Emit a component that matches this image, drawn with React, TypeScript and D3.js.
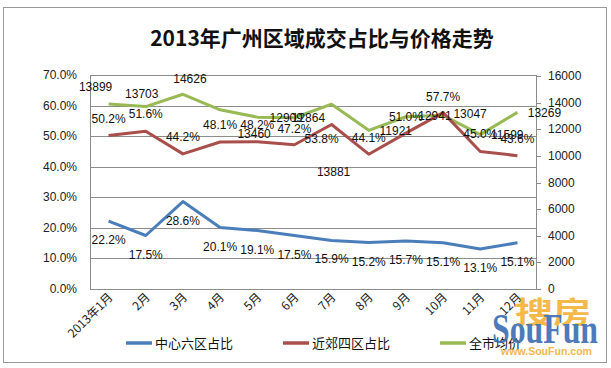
import * as d3 from "d3";

const months = ["2013年1月", "2月", "3月", "4月", "5月", "6月", "7月", "8月", "9月", "10月", "11月", "12月"];
const centralShare = [22.2, 17.5, 28.6, 20.1, 19.1, 17.5, 15.9, 15.2, 15.7, 15.1, 13.1, 15.1];
const suburbShare = [50.2, 51.6, 44.2, 48.1, 48.2, 47.2, 53.8, 44.1, 51.0, 57.7, 45.0, 43.6];
const cityPrice = [13899, 13703, 14626, 13460, 12909, 12864, 13881, 11921, 12941, 13047, 11599, 13269];
const leftTicks = [0, 10, 20, 30, 40, 50, 60, 70];
const rightTicks = [0, 2000, 4000, 6000, 8000, 10000, 12000, 14000, 16000];
const seriesNames = ["中心六区占比", "近郊四区占比", "全市均价"];

// label nudges (px) copied from how the labels sit in the original
const priceLabelDx = [-13, -4, 7, 34, 29, 14, 2, 27, 29, 27, 27, 27];
const priceLabelDy = [-17, -13, -15, 24, 1, 0, 68, 1, -1, -1, 0, 1];
const suburbLabelDx = [0, 0, 0, 0, 0, 0, -10, 0, 0, 0, 0, 0];
const suburbLabelDy = [-17, -17, -17, -17, -17, -16, 14, -16, -16, -16, -17, -17];

const BLUE = "#4A7EBB";
const RED = "#A84F4C";
const GREEN = "#98B954";
const NUM_FONT = "'Liberation Sans', Arial, sans-serif";
const CJK_FONT = "'Noto Sans CJK SC', sans-serif";

export default function App() {
  const width = 611;
  const height = 368;
  const plot = { left: 90, right: 536, top: 75, bottom: 289 };

  const x = d3.scaleBand().domain(months).range([plot.left, plot.right]);
  const cx = (i) => x(months[i]) + x.bandwidth() / 2;
  const yL = d3.scaleLinear().domain([0, 70]).range([plot.bottom, plot.top]);
  const yR = d3.scaleLinear().domain([0, 16000]).range([plot.bottom, plot.top + 1]);

  const pctLine = d3.line().x((d, i) => cx(i)).y((d) => yL(d));
  const priceLine = d3.line().x((d, i) => cx(i)).y((d) => yR(d));
  const pct = (v) => `${v.toFixed(1)}%`;

  return (
    <svg width={width} height={height} style={{ position: "absolute", left: 0, top: 0, background: "#fff" }}>
      <rect x={3.5} y={7.5} width={603} height={355} fill="#fff" stroke="#9a9a9a" />

      <text x={322} y={46} textAnchor="middle" fontFamily={CJK_FONT} fontWeight="bold" fontSize={21} fill="#111">
        2013年广州区域成交占比与价格走势
      </text>

      {/* gridlines */}
      {leftTicks.slice(1, -1).map((t) => (
        <line key={t} x1={plot.left} x2={plot.right} y1={Math.round(yL(t)) + 0.5} y2={Math.round(yL(t)) + 0.5} stroke="#8c8c8c" />
      ))}
      <rect x={plot.left + 0.5} y={plot.top + 0.5} width={plot.right - plot.left} height={plot.bottom - plot.top} fill="none" stroke="#8c8c8c" />

      {/* left axis */}
      {leftTicks.map((t) => (
        <text key={t} x={77} y={yL(t) + 4} textAnchor="end" fontFamily={NUM_FONT} fontSize={12} fill="#222">
          {pct(t)}
        </text>
      ))}

      {/* right axis */}
      {rightTicks.map((t) => (
        <g key={t}>
          <line x1={plot.right} x2={plot.right + 5} y1={Math.round(yR(t)) + 0.5} y2={Math.round(yR(t)) + 0.5} stroke="#8c8c8c" />
          <text x={548} y={yR(t) + 4} fontFamily={NUM_FONT} fontSize={12} fill="#222">
            {t}
          </text>
        </g>
      ))}

      {/* x axis labels */}
      {months.map((m, i) => (
        <text
          key={m}
          transform={`translate(${cx(i) + 5},${plot.bottom + 9}) rotate(-45)`}
          textAnchor="end"
          fontFamily={CJK_FONT}
          fontSize={12}
          fill="#222"
        >
          {m}
        </text>
      ))}

      {/* lines */}
      <path d={priceLine(cityPrice)} fill="none" stroke={GREEN} strokeWidth={3} strokeLinejoin="round" />
      <path d={pctLine(suburbShare)} fill="none" stroke={RED} strokeWidth={3} strokeLinejoin="round" />
      <path d={pctLine(centralShare)} fill="none" stroke={BLUE} strokeWidth={3} strokeLinejoin="round" />

      {/* data labels */}
      {centralShare.map((v, i) => (
        <text key={"c" + i} x={cx(i)} y={yL(v) + 23} textAnchor="middle" fontFamily={NUM_FONT} fontSize={12} fill="#111">
          {pct(v)}
        </text>
      ))}
      {suburbShare.map((v, i) => (
        <text key={"s" + i} x={cx(i) + suburbLabelDx[i]} y={yL(v) + suburbLabelDy[i] + 4} textAnchor="middle" fontFamily={NUM_FONT} fontSize={12} fill="#111">
          {pct(v)}
        </text>
      ))}
      {cityPrice.map((v, i) => (
        <text key={"p" + i} x={cx(i) + priceLabelDx[i]} y={yR(v) + priceLabelDy[i] + 4} textAnchor="middle" fontFamily={NUM_FONT} fontSize={12} fill="#111">
          {v}
        </text>
      ))}

      {/* legend */}
      {[BLUE, RED, GREEN].map((c, i) => {
        const lx = [126, 283, 440][i];
        return (
          <g key={c}>
            <line x1={lx} x2={lx + 26} y1={343} y2={343} stroke={c} strokeWidth={3.5} />
            <text x={lx + 29} y={347.5} fontFamily={CJK_FONT} fontSize={13} fill="#111">
              {seriesNames[i]}
            </text>
          </g>
        );
      })}

      {/* watermark */}
      <g opacity={0.92}>
        <text x={515} y={323} fontFamily={CJK_FONT} fontWeight="bold" fontSize={30} fill="#F4B23C" textLength={76} lengthAdjust="spacingAndGlyphs">
          搜房
        </text>
        <text x={492} y={343} fontFamily="'Liberation Serif', serif" fontWeight="bold" fontSize={42} fill="#3F6FB6" textLength={106} lengthAdjust="spacingAndGlyphs">
          SouFun
        </text>
        <text x={501} y={355} fontFamily={NUM_FONT} fontWeight="bold" fontSize={10} fill="#F4B23C" textLength={91} lengthAdjust="spacingAndGlyphs">
          www.SouFun.com
        </text>
      </g>
    </svg>
  );
}
